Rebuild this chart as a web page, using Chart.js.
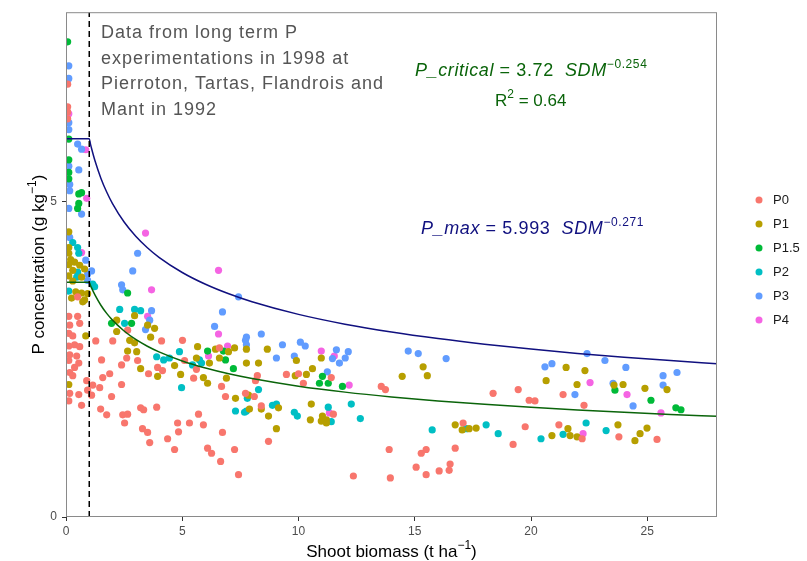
<!DOCTYPE html>
<html>
<head>
<meta charset="utf-8">
<script src="https://cdn.jsdelivr.net/npm/chart.js@4.4.1/dist/chart.umd.min.js"></script>
<style>
  html, body { margin: 0; padding: 0; background: #fff; }
  canvas { display: block; }
</style>
</head>
<body>
<canvas id="grafica" width="807" height="561"></canvas>
<script>
// grupos de fertilizacion y sus colores (paleta ggplot)
const grupos = ['P0', 'P1', 'P1.5', 'P2', 'P3', 'P4']
const colores = ['#F8766D', '#B79F00', '#00BA38', '#00BFC4', '#619CFF', '#F564E3']

// puntos [biomasa, concentracion P]
const p0 = [[0.07,6.86],[0.07,6.50],[0.07,6.42],[0.07,6.31],
  [0.50,3.49],[0.12,3.18],[0.50,3.18],[0.16,3.04],[0.59,3.07],[0.12,2.91],[0.29,2.87],[0.37,2.73],[0.12,2.71],[0.59,2.70],[0.16,2.57],[0.46,2.55],[0.12,2.48],[1.28,2.79],[2.01,2.79],[2.65,2.96],[4.11,2.79],[5.01,2.80],[2.61,2.52],[3.08,2.48],
  [0.37,2.37],[0.16,2.29],[0.55,2.44],[0.29,2.24],[0.89,2.16],[1.15,2.09],[1.45,2.05],[1.58,2.21],[1.88,2.27],[1.53,2.49],[2.39,2.41],[2.39,2.10],[3.55,2.27],[3.94,2.37],[4.15,2.32],[0.16,1.96],[0.55,1.94],[0.93,2.01],[1.10,1.93],[0.12,1.84],[0.67,1.77],[1.49,1.71],[1.96,1.91],[1.75,1.62],[2.44,1.62],[2.65,1.63],[2.52,1.49],[3.21,1.73],[3.34,1.70],[3.90,1.74],[3.29,1.40],[3.51,1.34],[3.60,1.18],[4.37,1.24],[4.67,1.07],[4.80,1.49],[4.84,1.35],
  [6.60,2.68],[5.10,2.48],[5.61,2.34],
  [5.49,2.20],[8.23,2.24],[8.15,2.16],[9.48,2.26],[10.00,2.27],[11.41,2.21],[10.21,2.12],[6.69,2.07],[6.86,1.91],[7.72,1.96],[8.10,1.91],[8.40,1.76],[11.50,1.63],[5.70,1.63],[5.31,1.49],[5.91,1.46],[6.73,1.34],[8.71,1.20],[6.09,1.09],[6.26,1.01],[7.25,1.07],[6.65,0.88],[7.42,0.67],
  [13.56,2.07],[13.74,2.02],[18.37,1.96],[19.45,2.02],[19.92,1.85],[17.08,1.49],[19.75,1.43],[19.23,1.15],[13.90,1.07],[15.49,1.07],[15.28,1.01],[16.74,1.09],[16.52,0.84],[16.48,0.74],[15.06,0.79],[16.05,0.73],[15.49,0.67],[13.95,0.62],[12.36,0.65],
  [21.38,1.94],[20.17,1.84],[22.28,1.77],[21.20,1.46],[22.20,1.24],[23.78,1.27],[25.42,1.23]]

const p1 = [[0.12,4.52],[0.12,4.27],[0.12,4.18],[0.20,4.08],[0.37,4.04],[0.12,4.00],[0.59,3.99],[0.29,3.91],[0.80,3.93],[0.12,3.82],[0.67,3.80],[0.29,3.74],[0.42,3.57],[0.67,3.55],[0.93,3.54],[0.24,3.47],[0.80,3.44],[0.72,3.41],[0.85,2.87],
  [2.18,3.12],[2.95,3.19],[3.51,3.04],[3.81,2.99],[2.18,2.94],[3.64,2.85],[2.74,2.80],[2.95,2.76],[2.65,2.63],[3.04,2.62],
  [0.12,2.10],[3.21,2.35],[3.94,2.23],[4.67,2.40],[4.93,2.26],
  [5.66,2.70],[6.43,2.66],[7.25,2.68],[7.76,2.66],[8.66,2.66],[6.99,2.62],[6.60,2.52],[5.61,2.52],[6.17,2.44],[7.76,2.44],[8.28,2.44],[9.91,2.48],[10.98,2.52],[10.60,2.35],
  [5.91,2.21],[6.09,2.12],[6.90,2.20],[9.86,2.24],[10.34,2.26],[7.29,1.88],[7.85,1.93],[8.40,1.71],[7.89,1.71],[9.14,1.73],[8.71,1.60],[9.05,1.40],[10.55,1.79],[10.51,1.54],[11.03,1.60],[11.20,1.54],[10.98,1.52],[11.20,1.49],
  [15.36,2.38],[14.46,2.23],[15.54,2.24],[16.74,1.46],[17.04,1.38],[17.34,1.40],[17.64,1.41],
  [21.51,2.37],[22.32,2.32],[20.65,2.16],[21.98,2.10],[23.96,2.10],[23.57,2.09],[24.90,2.04],[25.85,2.02],[21.59,1.40],[23.74,1.46],[24.99,1.41],[24.69,1.32],[20.90,1.29],[21.68,1.29],[21.98,1.27],[24.47,1.21]]

const p15 = [[0.07,7.53],[0.12,5.99],[0.12,5.66],[0.12,5.46],[0.12,5.36],[0.55,5.12],[0.67,5.14],[0.55,4.97],[0.50,4.89],
  [2.65,3.55],[1.96,3.07],[2.82,3.07],[6.09,2.63],[6.77,2.63],[6.86,2.49],[7.20,2.35],
  [11.03,2.23],[10.90,2.12],[11.28,2.12],[11.89,2.07],[23.61,2.01],[25.16,1.85],[26.23,1.73],[26.45,1.70]]

const p2 = [[0.29,4.35],[0.50,4.27],[0.55,4.18],[0.50,3.88],[0.46,3.80],[1.15,3.69],[1.23,3.65],[0.12,3.58],[2.31,3.29],[2.95,3.29],[3.21,3.27],[2.52,3.07],[3.90,2.54],[4.20,2.49],
  [4.97,2.05],[4.45,2.52],[5.74,2.49],[5.83,2.44],[5.44,2.41],[4.88,2.62],
  [8.28,2.02],[7.80,1.88],[7.76,1.68],[7.29,1.68],[7.68,1.66],[8.88,1.77],[9.05,1.79],[9.82,1.66],[9.95,1.60],[11.28,1.74],[11.41,1.51],
  [12.27,1.79],[12.66,1.56],[15.75,1.38],[17.21,1.40],[18.07,1.46],[18.59,1.32],
  [22.37,1.49],[23.23,1.37],[20.43,1.24],[21.38,1.31]]

const p3 = [[0.12,7.15],[0.12,6.95],[0.12,6.25],[0.12,6.14],[0.50,5.91],[0.67,5.83],[0.12,5.56],[0.55,5.50],[0.16,5.27],[0.16,5.17],
  [0.12,4.89],[0.67,4.80],[3.08,4.18],[2.87,3.90],[2.39,3.68],[2.44,3.60],[0.16,4.43],[0.85,4.07],[1.10,3.90],[0.93,3.85],[0.93,3.75],[3.68,3.27],[3.60,3.12],[3.42,2.97],
  [7.42,3.49],[6.73,3.25],[6.39,3.02],[7.76,2.85],[7.72,2.80],[8.40,2.90],[7.76,2.73],[9.31,2.73],[10.08,2.77],[10.29,2.71],[11.63,2.65],[9.05,2.52],[9.82,2.55],[11.46,2.51],[11.24,2.30],
  [12.14,2.62],[12.01,2.52],[11.76,2.44],[14.72,2.63],[15.15,2.59],[16.35,2.51],
  [22.41,2.59],[23.18,2.48],[20.60,2.38],[20.90,2.43],[24.08,2.37],[25.68,2.24],[26.28,2.29],[23.53,2.12],[25.68,2.09],[21.89,1.94],[24.39,1.76]]

const p4 = [[0.12,6.39],[0.85,5.82],[0.89,5.05],[3.42,4.50],[3.68,3.60],[0.67,4.19],[3.51,3.18],
  [6.56,3.91],[6.56,2.90],[10.98,2.63],[11.54,2.55],[6.95,2.71],[6.13,2.55],[11.33,1.65],[12.18,2.09],
  [22.54,2.13],[24.13,1.94],[25.59,1.65],[22.24,1.32]]

const puntos = [p0, p1, p15, p2, p3, p4]

// curvas de dilucion
const curvaX = [0, 1, 1.05, 1.1, 1.25, 1.5, 1.75, 2, 2.5, 3, 3.5, 4, 5, 6, 7, 8, 10, 12, 14, 16, 18, 20, 22, 24, 26, 28]
const curvaMax = [5.993, 5.993, 5.914, 5.840, 5.641, 5.369, 5.150, 4.967, 4.675, 4.450, 4.268, 4.116, 3.875, 3.688, 3.537, 3.411, 3.211, 3.056, 2.931, 2.827, 2.738, 2.661, 2.593, 2.533, 2.479, 2.429]
const curvaCrit = [3.72, 3.72, 3.674, 3.631, 3.515, 3.356, 3.227, 3.120, 2.948, 2.814, 2.706, 2.616, 2.472, 2.360, 2.269, 2.194, 2.073, 1.979, 1.903, 1.840, 1.785, 1.738, 1.697, 1.659, 1.626, 1.596]
const lineaV = 1

const xTicks = [0, 5, 10, 15, 20, 25]
const yTicks = [0, 5]

const FUENTE = '"Liberation Sans", Arial, Helvetica, sans-serif'

const nota = ['Data from long term P', 'experimentations in 1998 at', 'Pierroton, Tartas, Flandrois and', 'Mant in 1992']

const eqCrit = [{t: 'P_critical', it: true}, {t: ' = 3.72  '}, {t: 'SDM', it: true}, {t: '\u22120.254', sup: true}]
const eqR2 = [{t: 'R'}, {t: '2', sup: true}, {t: ' = 0.64'}]
const eqMax = [{t: 'P_max', it: true}, {t: ' = 5.993  '}, {t: 'SDM', it: true}, {t: '\u22120.271', sup: true}]
const tituloX = [{t: 'Shoot biomass (t ha'}, {t: '\u22121', sup: true}, {t: ')'}]
const tituloY = [{t: 'P concentration (g kg'}, {t: '\u22121', sup: true}, {t: ')'}]

const anchoRico = (ctx, partes, size, esp = 0) => {
    let w = 0
    ctx.letterSpacing = esp + 'px'
    partes.forEach(p => {
        const s = p.sup ? Math.round(size * 0.68) : size
        ctx.font = `${p.it ? 'italic ' : ''}${s}px ${FUENTE}`
        w += ctx.measureText(p.t).width
    })
    ctx.letterSpacing = '0px'
    return w
}

const textoRico = (ctx, x, y, partes, size, color, esp = 0) => {
    ctx.fillStyle = color
    ctx.textAlign = 'left'
    ctx.textBaseline = 'alphabetic'
    ctx.letterSpacing = esp + 'px'
    partes.forEach(p => {
        const s = p.sup ? Math.round(size * 0.68) : size
        ctx.font = `${p.it ? 'italic ' : ''}${s}px ${FUENTE}`
        ctx.fillText(p.t, x, p.sup ? y - size * 0.45 : y)
        x += ctx.measureText(p.t).width
    })
    ctx.letterSpacing = '0px'
}

const decoracion = {
    id: 'decoracion',
    afterDraw(chart) {
        const ctx = chart.ctx
        const a = chart.chartArea
        ctx.save()

        // borde del panel
        ctx.strokeStyle = '#8a8a8a'
        ctx.lineWidth = 1
        ctx.strokeRect(a.left + 0.5, a.top + 0.5, a.right - a.left - 1, a.bottom - a.top - 1)

        // nota gris
        ctx.fillStyle = '#555555'
        ctx.font = `18px ${FUENTE}`
        ctx.letterSpacing = '1px'
        ctx.textAlign = 'left'
        ctx.textBaseline = 'alphabetic'
        nota.forEach((linea, i) => ctx.fillText(linea, a.left + 35, a.top + 26 + i * 25.5))
        ctx.letterSpacing = '0px'

        // ecuaciones
        textoRico(ctx, 415, 76, eqCrit, 18, '#0a640a', 0.6)
        textoRico(ctx, 495, 106, eqR2, 17, '#0a640a')
        textoRico(ctx, 421, 234, eqMax, 18, '#10107f', 0.6)

        // titulos de ejes
        const cx = (a.left + a.right) / 2
        const wX = anchoRico(ctx, tituloX, 17)
        textoRico(ctx, cx - wX / 2, 557, tituloX, 17, '#000')

        const cy = (a.top + a.bottom) / 2
        const wY = anchoRico(ctx, tituloY, 17)
        ctx.translate(44, cy)
        ctx.rotate(-Math.PI / 2)
        textoRico(ctx, -wY / 2, 0, tituloY, 17, '#000')
        ctx.setTransform(1, 0, 0, 1, 0, 0)

        // leyenda
        grupos.forEach((g, i) => {
            const y = 200 + i * 24
            ctx.beginPath()
            ctx.fillStyle = colores[i]
            ctx.arc(a.right + 42, y, 3.5, 0, Math.PI * 2)
            ctx.fill()
            ctx.fillStyle = '#1a1a1a'
            ctx.font = `13px ${FUENTE}`
            ctx.textBaseline = 'middle'
            ctx.fillText(g, a.right + 56, y + 0.5)
        })
        ctx.restore()
    }
}

const lineas = [
    {
        label: 'P_max',
        data: curvaX.map((x, i) => ({x: x, y: curvaMax[i]})),
        showLine: true, borderColor: '#10107f', borderWidth: 1.5,
        pointRadius: 0, cubicInterpolationMode: 'monotone', order: 1, clip: 0
    },
    {
        label: 'P_critical',
        data: curvaX.map((x, i) => ({x: x, y: curvaCrit[i]})),
        showLine: true, borderColor: '#0a640a', borderWidth: 1.5,
        pointRadius: 0, cubicInterpolationMode: 'monotone', order: 1, clip: 0
    },
    {
        label: 'vline',
        data: [{x: lineaV, y: 0}, {x: lineaV, y: 8}],
        showLine: true, borderColor: '#000', borderWidth: 1.5, borderDash: [6, 4],
        pointRadius: 0, order: 0, clip: 0
    }
]

const nubes = grupos.map((g, i) => ({
    label: g,
    data: puntos[i].map(p => ({x: p[0], y: p[1]})),
    backgroundColor: colores[i],
    borderWidth: 0,
    pointRadius: 3.6,
    order: 2 + i,
    clip: 0
}))

const ejeComun = {
    type: 'linear',
    border: {display: false},
    grid: {drawOnChartArea: false, drawTicks: true, tickLength: 4, color: '#333333'},
    ticks: {color: '#4d4d4d', font: {size: 12, family: FUENTE}}
}

window.graficaUno = new Chart(document.getElementById('grafica'), {
    type: 'scatter',
    data: {datasets: [...lineas, ...nubes]},
    options: {
        responsive: false,
        animation: false,
        layout: {padding: {left: 0, top: 5, right: 90, bottom: 0}},
        plugins: {legend: {display: false}, tooltip: {enabled: false}},
        scales: {
            x: {
                ...ejeComun, min: 0, max: 28,
                ticks: {...ejeComun.ticks, padding: 3, maxRotation: 0},
                afterBuildTicks: s => { s.ticks = xTicks.map(v => ({value: v})) },
                afterFit: s => { s.height = 44 }
            },
            y: {
                ...ejeComun, min: 0, max: 8,
                ticks: {...ejeComun.ticks, padding: 5},
                afterBuildTicks: s => { s.ticks = yTicks.map(v => ({value: v})) },
                afterFit: s => { s.width = 66 }
            }
        }
    },
    plugins: [decoracion]
})
</script>
</body>
</html>
